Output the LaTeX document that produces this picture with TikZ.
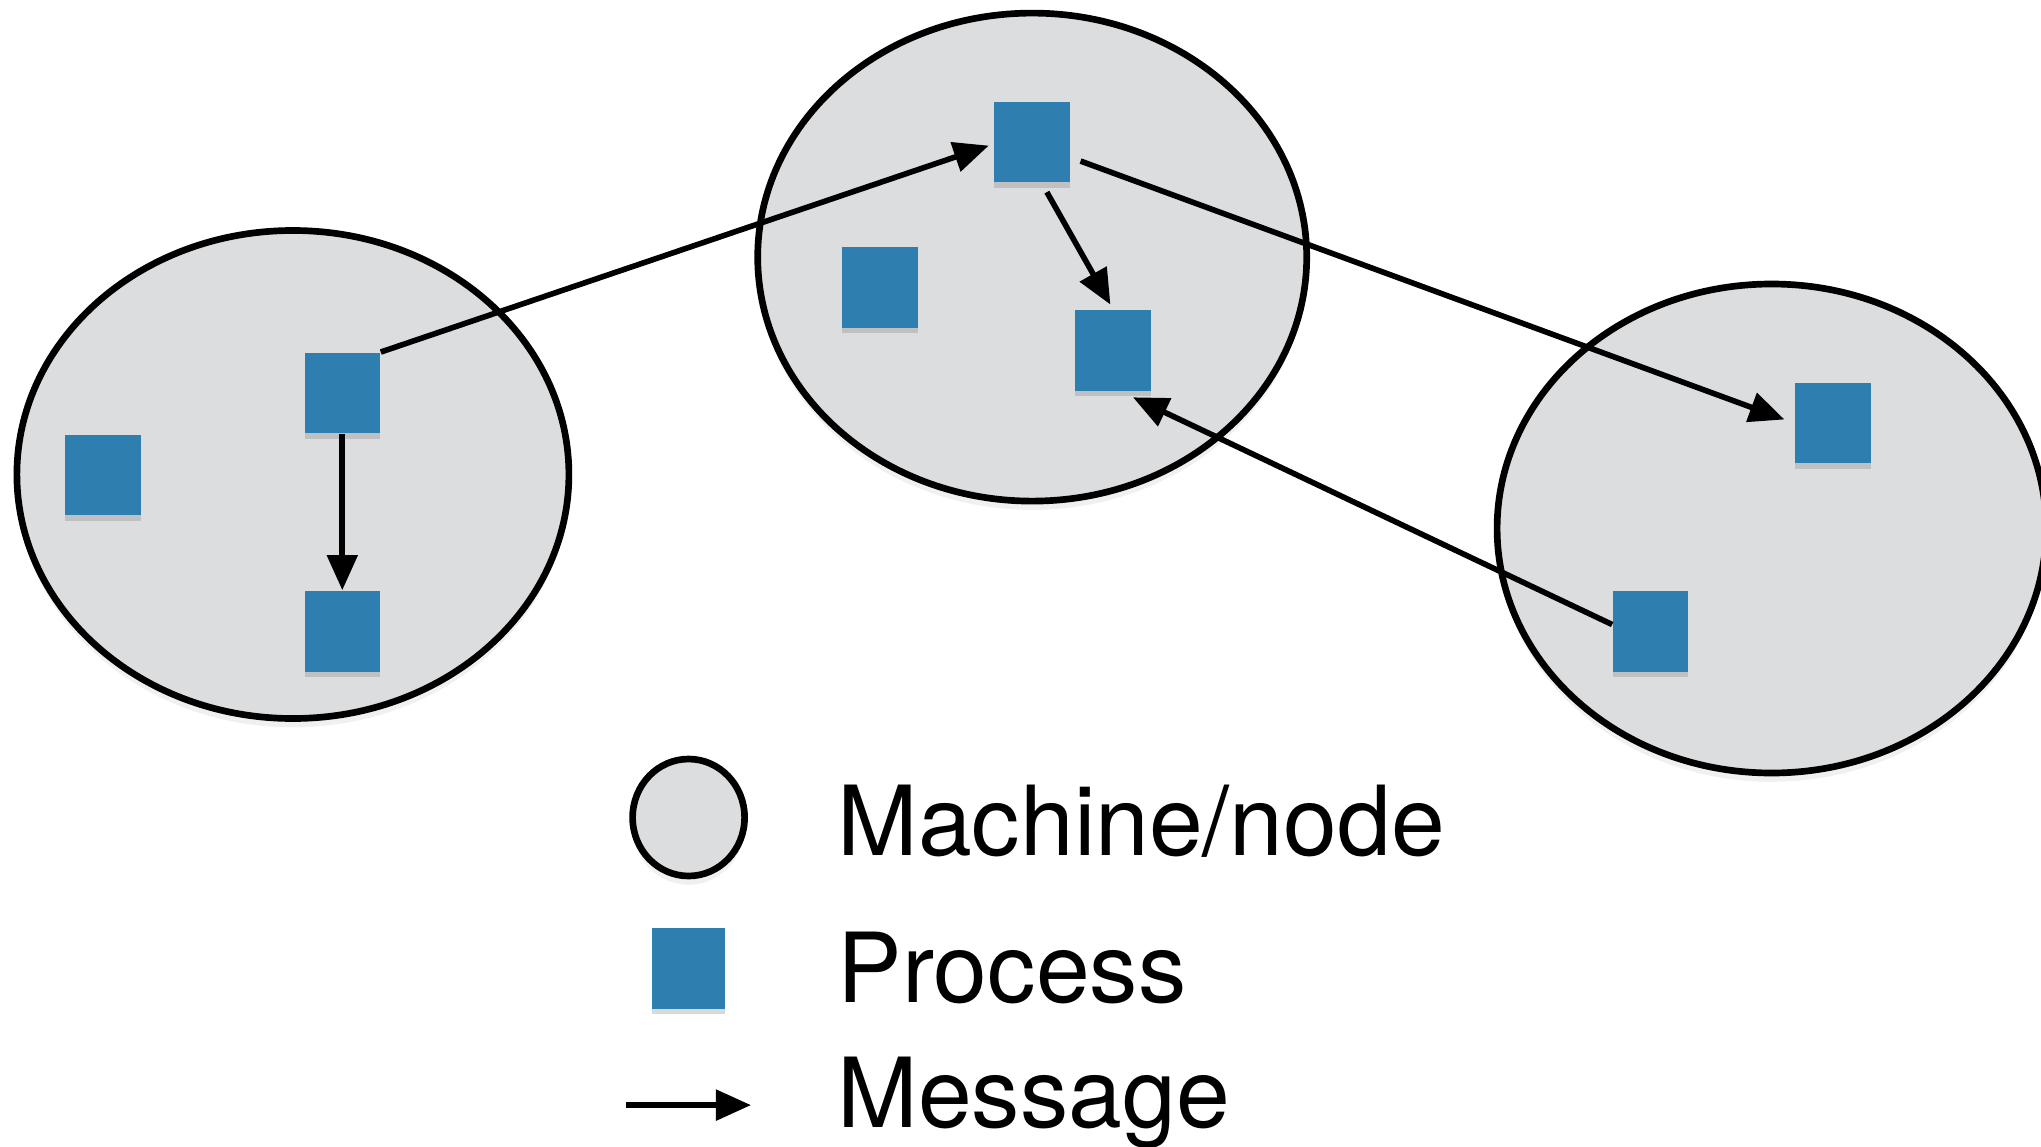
\documentclass[tikz,border=0pt]{standalone}
\usepackage{fontspec}
\setmainfont{TeX Gyre Heros}
\usetikzlibrary{
    positioning,
    arrows.meta,
    shapes.geometric,
    shadows
}
\definecolor{grisnodo}{HTML}{DCDDDF}
\definecolor{azulproc}{HTML}{2F7EB0}
\tikzset{
    >={Triangle[length=10pt,width=8.5pt]},
    maquina/.style={
        ellipse,
        draw,
        line width=1.9pt,
        fill=grisnodo,
        drop shadow={shadow xshift=0pt, shadow yshift=-2.5pt, opacity=0.12}
    },
    proceso/.style={
        rectangle,
        fill=azulproc,
        inner sep=0pt,
        minimum width=0.755cm,
        minimum height=0.807cm,
        drop shadow={shadow xshift=0pt, shadow yshift=-1.5pt, opacity=0.3}
    },
    mensaje/.style={
        ->,
        line width=1.6pt
    },
    leyenda/.style={
        anchor=base west,
        inner sep=0pt,
        font=\fontsize{27.5}{33}\selectfont
    }
}

\begin{document}
\begin{tikzpicture}

    \useasboundingbox (0,0) rectangle (20.41,-11.46);

    % Máquinas
    \node[maquina, minimum width=5.52cm, minimum height=4.88cm] (m1) at (2.929,-4.745)  {};
    \node[maquina, minimum width=5.49cm, minimum height=4.88cm] (m2) at (10.322,-2.571) {};
    \node[maquina, minimum width=5.49cm, minimum height=4.89cm] (m3) at (17.716,-5.285) {};

    % Procesos
    \node[proceso] (a1) at (3.423,-3.931)  {};
    \node[proceso] (a2) at (1.028,-4.751)  {};
    \node[proceso] (a3) at (3.423,-6.313)  {};

    \node[proceso] (b1) at (10.322,-1.419) {};
    \node[proceso] (b2) at (8.799,-2.877)  {};
    \node[proceso] (b3) at (11.130,-3.502) {};

    \node[proceso] (c1) at (18.328,-4.231) {};
    \node[proceso] (c2) at (16.506,-6.313) {};

    % Mensajes
    \draw[mensaje, shorten >=1.5pt] (a1.north east) -- (b1.183);
    \draw[mensaje] (a1.south) -- (a3.north);
    \draw[mensaje, shorten <=3pt, shorten >=1.5pt] (b1.-77) -- (b3.north);
    \draw[mensaje, shorten <=3pt, shorten >=3pt] (b1.-22) -- (c1.west);
    \draw[mensaje, shorten >=4pt] (c2.170) -- (b3.-80);

    % Leyenda
    \node[maquina, minimum width=1.12cm, minimum height=1.17cm] (lm) at (6.886,-8.175) {};
    \node[proceso, minimum width=0.729cm] (lp) at (6.886,-9.685) {};
    \coordinate (f0) at (6.261,-11.051);
    \coordinate (f1) at (7.511,-11.051);
    \draw[mensaje, line width=1.7pt] (f0) -- (f1);

    \node[leyenda] (tm) at (8.370,-8.552)  {Machine/node};
    \node[leyenda] (tp) at (8.370,-10.023) {Process};
    \node[leyenda] (tf) at (8.370,-11.273) {Message};

\end{tikzpicture}
\end{document}
